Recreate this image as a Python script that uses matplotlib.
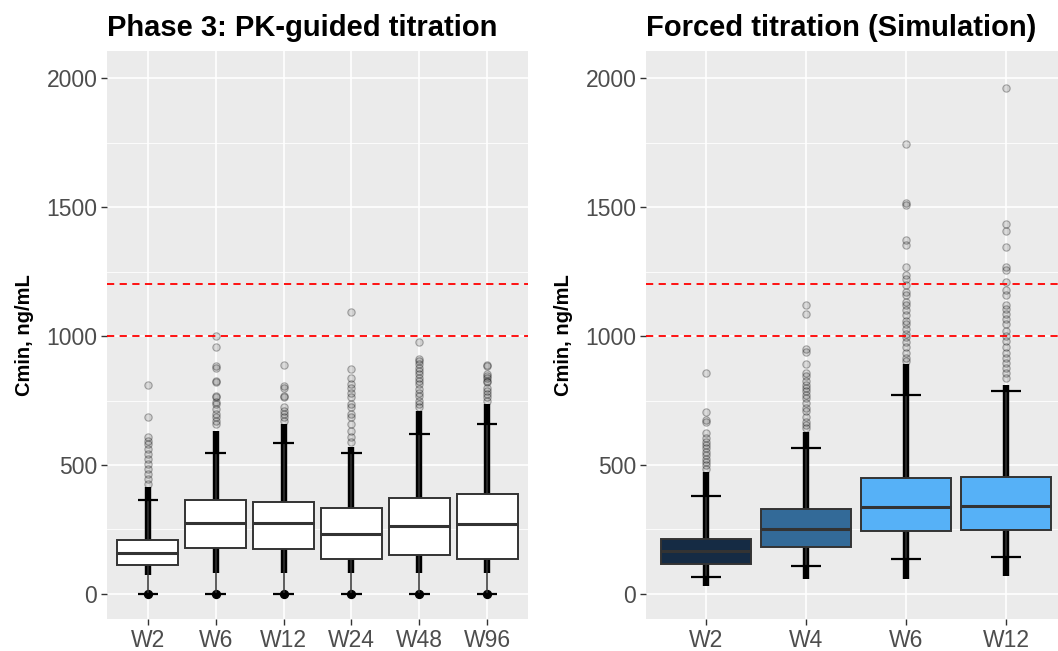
import numpy as np
import matplotlib.pyplot as plt

plt.rcParams['font.family'] = ['Liberation Sans', 'DejaVu Sans']

# --- Phase 3 observed (PK-guided titration) ---
p3_weeks = ['W2', 'W6', 'W12', 'W24', 'W48', 'W96']
p3_q1 = [113, 179, 173, 136, 150, 137]
p3_med = [158, 277, 277, 231, 265, 271]
p3_q3 = [208, 363, 358, 335, 371, 386]
p3_whislo = [0, 0, 0, 0, 0, 0]
p3_whishi = [363, 547, 584, 547, 619, 660]
p3_cap_lo = [0, 0, 0, 0, 0, 0]
p3_cap_hi = [363, 547, 584, 547, 619, 660]
p3_dense_lo = [73, 80, 80, 80, 80, 80]
p3_dense_hi = [414, 633, 659, 569, 710, 736]
p3_zero = [0, 0, 0, 0, 0, 0]
p3_out = [
    [810, 685, 607, 595, 582, 562, 543, 524, 504, 485, 466, 447, 427],
    [1001, 958, 884, 878, 826, 820, 768, 762, 743, 736, 717, 698, 685, 672, 659],
    [887, 807, 800, 768, 762, 723, 710, 698, 685, 672],
    [1095, 871, 839, 813, 800, 781, 762, 736, 723, 698, 685, 659, 633, 607, 588],
    [977, 910, 903, 891, 878, 865, 852, 839, 826, 813, 794, 781, 768, 749, 736, 723],
    [887, 884, 852, 846, 839, 826, 820, 800, 788, 775, 762, 749],
]

# --- Forced titration (simulation) ---
sim_weeks = ['W2', 'W4', 'W6', 'W12']
sim_q1 = [117, 184, 244, 249]
sim_med = [166, 253, 337, 342]
sim_q3 = [214, 328, 448, 453]
sim_whislo = [65, 107, 137, 144]
sim_whishi = [381, 567, 773, 786]
sim_cap_lo = [65, 107, 137, 144]
sim_cap_hi = [381, 567, 773, 786]
sim_dense_lo = [30, 57, 57, 68]
sim_dense_hi = [473, 629, 890, 812]
sim_out = [
    [858, 705, 675, 668, 623, 603, 590, 577, 564, 551, 538, 525, 512, 499, 486],
    [1119, 1086, 949, 940, 890, 858, 845, 825, 812, 799, 786, 773, 760, 740, 721, 708,
     688, 668, 655, 642],
    [1745, 1517, 1508, 1373, 1354, 1269, 1236, 1223, 1197, 1171, 1158, 1132, 1119, 1099,
     1080, 1060, 1047, 1027, 1008, 995, 975, 956, 936, 916, 903],
    [1961, 1436, 1406, 1347, 1269, 1256, 1210, 1178, 1158, 1119, 1106, 1086, 1067, 1047,
     1021, 1001, 982, 956, 936, 916, 897, 877, 858, 838],
]
sim_fill = ['#152B44', '#336A98', '#56B1F7', '#56B1F7']

ref_lines = [1000, 1200]


def panel(ax, weeks, q1, med, q3, wlo, whi, clo, chi, dlo, dhi, outs, fills, title, zeros=None):
    ax.set_facecolor('#EBEBEB')
    pos = np.arange(1, len(weeks) + 1)

    # grid
    ax.set_yticks([0, 500, 1000, 1500, 2000])
    ax.set_yticks([250, 750, 1250, 1750], minor=True)
    ax.set_xticks(pos)
    ax.set_xticklabels(weeks)
    ax.grid(which='major', color='white', lw=1.2, zorder=0)
    ax.grid(which='minor', axis='y', color='white', lw=0.6, zorder=0)
    ax.set_axisbelow(True)

    # raw points
    for i, p in enumerate(pos):
        ax.vlines(p, dlo[i], dhi[i], color='black', lw=4.6, zorder=2)
        ax.scatter([p] * len(outs[i]), outs[i], s=28, facecolor=(0, 0, 0, 0.12),
                   edgecolor=(0, 0, 0, 0.3), lw=0.8, zorder=2)
    if zeros is not None:
        ax.scatter(pos, zeros, s=32, color='black', zorder=2)

    stats = []
    for i in range(len(weeks)):
        stats.append(dict(q1=q1[i], med=med[i], q3=q3[i], whislo=wlo[i], whishi=whi[i], fliers=[]))
    bp = ax.bxp(stats, positions=pos, widths=0.9, patch_artist=True, showcaps=False,
                showfliers=False, manage_ticks=False,
                boxprops=dict(edgecolor='#333333', lw=1.4),
                medianprops=dict(color='#333333', lw=2.2),
                whiskerprops=dict(color='#333333', lw=1.1))
    for b, c in zip(bp['boxes'], fills):
        b.set_facecolor(c)
        b.set_zorder(3)
    for m in bp['medians']:
        m.set_zorder(3.5)

    # percentile error bar caps
    ax.hlines(clo, pos - 0.15, pos + 0.15, color='black', lw=1.6, zorder=4)
    ax.hlines(chi, pos - 0.15, pos + 0.15, color='black', lw=1.6, zorder=4)

    for r in ref_lines:
        ax.axhline(r, color='red', ls=(0, (4, 3)), lw=1.3, zorder=2.5)

    ax.set_xlim(0.4, len(weeks) + 0.6)
    ax.set_ylim(-97, 2105)
    for s in ax.spines.values():
        s.set_visible(False)
    ax.tick_params(axis='both', which='major', length=4, width=1, color='#333333',
                   labelcolor='#4D4D4D', labelsize=16.5, pad=3)
    ax.tick_params(axis='y', which='minor', length=0)
    ax.set_ylabel('Cmin, ng/mL', fontsize=14.5, fontweight='bold', labelpad=9)
    ax.set_title(title, loc='left', fontsize=21, fontweight='bold', pad=11)


fig = plt.figure(figsize=(10.58, 6.51), dpi=100)
ax1 = fig.add_axes([107 / 1058, 32 / 651, 421 / 1058, 568 / 651])
ax2 = fig.add_axes([646 / 1058, 32 / 651, 420 / 1058, 568 / 651])

panel(ax1, p3_weeks, p3_q1, p3_med, p3_q3, p3_whislo, p3_whishi, p3_cap_lo, p3_cap_hi,
      p3_dense_lo, p3_dense_hi, p3_out, ['white'] * 6, 'Phase 3: PK-guided titration',
      zeros=p3_zero)
panel(ax2, sim_weeks, sim_q1, sim_med, sim_q3, sim_whislo, sim_whishi, sim_cap_lo, sim_cap_hi,
      sim_dense_lo, sim_dense_hi, sim_out, sim_fill, 'Forced titration (Simulation)')

fig.savefig('out.png', dpi=100)
